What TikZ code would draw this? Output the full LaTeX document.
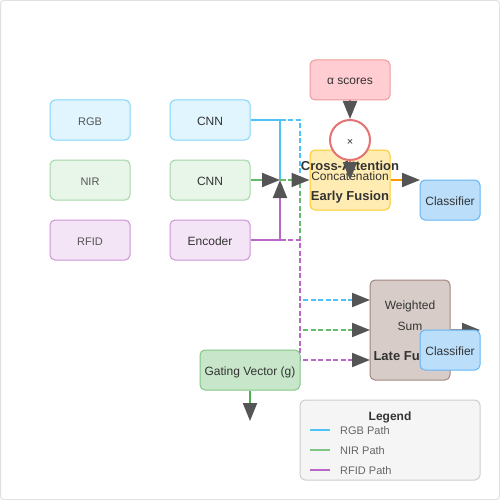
\documentclass[tikz,border=0pt]{standalone}
\usepackage{fontspec}
\setmainfont{Liberation Sans}
\usetikzlibrary{arrows.meta}
\definecolor{rgbfill}{HTML}{E1F5FE}\definecolor{rgbdraw}{HTML}{81D4FA}
\definecolor{nirfill}{HTML}{E8F5E9}\definecolor{nirdraw}{HTML}{A5D6A7}
\definecolor{rfidfill}{HTML}{F3E5F5}\definecolor{rfiddraw}{HTML}{CE93D8}
\definecolor{alphafill}{HTML}{FFCDD2}\definecolor{alphadraw}{HTML}{EF9A9A}
\definecolor{circdraw}{HTML}{E57373}
\definecolor{effill}{HTML}{FFECB3}\definecolor{efdraw}{HTML}{FFCA28}
\definecolor{clsfill}{HTML}{BBDEFB}\definecolor{clsdraw}{HTML}{64B5F6}
\definecolor{lffill}{HTML}{D7CCC8}\definecolor{lfdraw}{HTML}{A1887F}
\definecolor{gatefill}{HTML}{C8E6C9}\definecolor{gatedraw}{HTML}{81C784}
\definecolor{legfill}{HTML}{F5F5F5}\definecolor{legdraw}{HTML}{CCCCCC}
\definecolor{lblue}{HTML}{4FC3F7}\definecolor{lgreen}{HTML}{66BB6A}
\definecolor{lpurple}{HTML}{BA68C8}\definecolor{lorange}{HTML}{FF9800}
\definecolor{lgate}{HTML}{4CAF50}
\definecolor{arrgray}{HTML}{555555}
\definecolor{txt}{HTML}{333333}\definecolor{txtlight}{HTML}{555555}
\definecolor{legtxt}{HTML}{666666}
\begin{document}
\begin{tikzpicture}[x=1pt,y=-1pt,
  tx/.style={text height=12pt, text depth=2pt},
  box/.style={draw, rounded corners=5pt, line width=1pt, minimum width=80pt, minimum height=40pt, inner sep=0pt, font=\fontsize{12}{14}\selectfont, text=txt, tx},
  inbox/.style={box, font=\fontsize{11}{13}\selectfont, text=txtlight},
  lbl/.style={inner sep=0pt, font=\fontsize{12}{14}\selectfont, text=txt, tx},
  blbl/.style={inner sep=0pt, font=\fontsize{13}{15}\selectfont\bfseries, text=txt, tx},
  legentry/.style={anchor=west, inner sep=0pt, font=\fontsize{11}{13}\selectfont, text=legtxt, tx},
  arrowend/.style={-{Triangle[length=18pt,width=14pt,color=arrgray]}},
  conn/.style={line width=2pt},
  dconn/.style={line width=2pt, dash pattern=on 5pt off 2.5pt},
  legline/.style={line width=2pt}
]
\useasboundingbox (0,0) rectangle (500,500);
\draw[color=legdraw!60, line width=1pt, rounded corners=3pt] (0.5,0.5) rectangle (499.5,499.5);

% inputs
\node[inbox, fill=rgbfill, draw=rgbdraw] (rgb) at (90,120) {RGB};
\node[inbox, fill=nirfill, draw=nirdraw] (nir) at (90,180) {NIR};
\node[inbox, fill=rfidfill, draw=rfiddraw] (rfid) at (90,240) {RFID};
% encoders
\node[box, fill=rgbfill, draw=rgbdraw] (cnn1) at (210,120) {CNN};
\node[box, fill=nirfill, draw=nirdraw] (cnn2) at (210,180) {CNN};
\node[box, fill=rfidfill, draw=rfiddraw] (enc) at (210,240) {Encoder};

\coordinate (m) at (280,180);
\coordinate (lfa) at (370,300);
\coordinate (lfb) at (370,330);
\coordinate (lfc) at (370,360);

% dashed late-fusion paths
\draw[dconn, lblue, arrowend] (cnn1.east) -- (300,120) -- (300,300) -- (lfa);
\draw[dconn, lgreen, arrowend] (cnn2.east) -- (300,180) -- (300,330) -- (lfb);
\draw[dconn, lpurple, arrowend] (enc.east) -- (300,240) -- (300,360) -- (lfc);

% solid early-fusion paths
\draw[conn, lblue] (cnn1.east) -- (280,120) -- (m);
\draw[conn, lgreen, arrowend] (cnn2.east) -- (m);
\draw[conn, lpurple, arrowend] (enc.east) -- (280,240) -- (m);

% alpha and fusion
\node[box, fill=alphafill, draw=alphadraw] (alpha) at (350,80) {α scores};
\node[box, fill=effill, draw=efdraw, minimum height=60pt] (ef) at (350,180) {};
\node[lbl] (concat) at (350,175.5) {Concatenation};
\node[blbl] (eftitle) at (350,195.3) {Early Fusion};
\node[blbl] (cross) at (350,165.3) {Cross-Attention};
\draw[dconn, lgreen, arrowend] (m) -- (ef.west);
\node[circle, draw=circdraw, fill=white, line width=2pt, minimum size=40pt, inner sep=0pt, font=\fontsize{11}{13}\selectfont, text=txt, tx] (mul) at (350,140) {×};
\draw[conn, circdraw, arrowend] (alpha.south) -- (mul.north);
\draw[conn, circdraw, arrowend] (mul.south) -- (ef.center);

\node[box, fill=clsfill, draw=clsdraw, minimum width=60pt] (cls1) at (450,200) {Classifier};
\coordinate (c1in) at (420,180);
\draw[conn, lorange, arrowend] (ef.east |- c1in) -- (c1in);

% late fusion
\node[box, fill=lffill, draw=lfdraw, minimum height=100pt] (lf) at (410,330) {};
\node[lbl] (wt) at (410,304.5) {Weighted};
\node[lbl] (sum) at (410,325) {Sum};
\node[blbl] (lftitle) at (410,355.3) {Late Fusion};
\coordinate (lfout) at (480,330);
\draw[conn, lfdraw, arrowend] (lf.east) -- (lfout);
\node[box, fill=clsfill, draw=clsdraw, minimum width=60pt] (cls2) at (450,350) {Classifier};

% gating
\node[box, fill=gatefill, draw=gatedraw, minimum width=100pt] (gate) at (250,370) {Gating Vector (g)};
\coordinate (gout) at (250,421);
\draw[conn, lgate, arrowend] (gate.south) -- (gout);

% legend
\node[draw=legdraw, fill=legfill, rounded corners=5pt, line width=1pt, minimum width=180pt, minimum height=80pt, inner sep=0pt] (leg) at (390,440) {};
\node[inner sep=0pt, font=\fontsize{12}{14}\selectfont\bfseries, text=txt, tx] (legt) at (390,415) {Legend};
\coordinate (la1) at (310,430); \coordinate (lb1) at (330,430);
\coordinate (la2) at (310,450); \coordinate (lb2) at (330,450);
\coordinate (la3) at (310,470); \coordinate (lb3) at (330,470);
\draw[legline, lblue] (la1) -- (lb1);
\draw[legline, gatedraw] (la2) -- (lb2);
\draw[legline, lpurple] (la3) -- (lb3);
\node[legentry] (l1) at (340,429.5) {RGB Path};
\node[legentry] (l2) at (340,449.5) {NIR Path};
\node[legentry] (l3) at (340,469.5) {RFID Path};
\end{tikzpicture}
\end{document}
